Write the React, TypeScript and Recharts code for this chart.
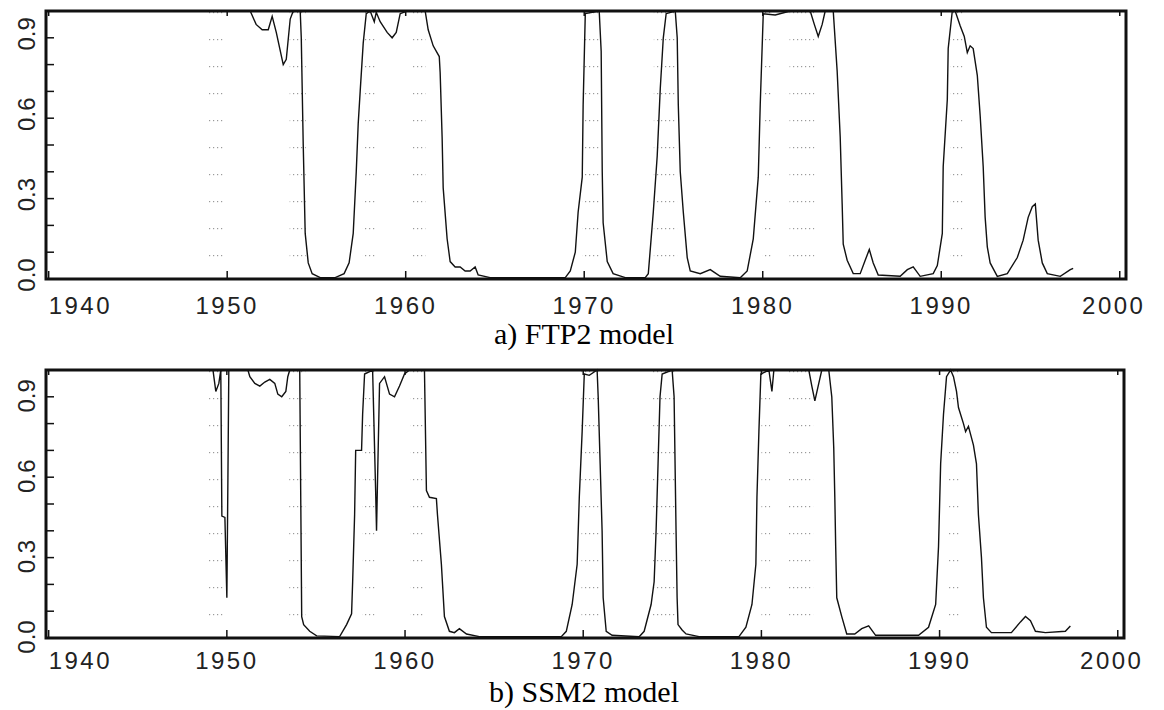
import React from "react";
import { LineChart, Line, XAxis, YAxis, ReferenceArea } from "recharts";

const yearTicks = [1940, 1950, 1960, 1970, 1980, 1990, 2000];
const probTicks = [0, 0.1, 0.2, 0.3, 0.4, 0.5, 0.6, 0.7, 0.8, 0.9, 1];
const probLabels = ["0.0", "0.3", "0.6", "0.9"];
const xDomain = [1939.85, 2000.35];

// NBER recession spans, drawn as the faint dotted bands
const recessions = [
  [1948.9, 1949.8],
  [1953.5, 1954.4],
  [1957.6, 1958.3],
  [1960.3, 1961.1],
  [1969.9, 1970.9],
  [1973.9, 1975.2],
  [1980.0, 1980.5],
  [1981.5, 1982.9],
  [1990.5, 1991.2],
];

// a) FTP2 model
const ftpYears = [
  1947.0, 1951.29, 1951.62, 1951.96, 1952.3, 1952.52, 1952.75, 1953.14, 1953.31, 1953.53,
  1953.7, 1954.09, 1954.15, 1954.26, 1954.37, 1954.54, 1954.76, 1955.21, 1956.05, 1956.55,
  1956.83, 1957.06, 1957.23, 1957.34, 1957.45, 1957.62, 1957.79, 1958.01, 1958.24, 1958.35,
  1958.57, 1958.96, 1959.24, 1959.47, 1959.69, 1960.08, 1961.09, 1961.26, 1961.54, 1961.88,
  1961.93, 1962.04, 1962.1, 1962.32, 1962.49, 1962.77, 1963.05, 1963.33, 1963.61, 1963.89,
  1964.06, 1964.73, 1968.94, 1969.22, 1969.5, 1969.66, 1969.89, 1969.94, 1970.06, 1970.84,
  1970.95, 1971.01, 1971.06, 1971.29, 1971.62, 1972.3, 1973.42, 1973.59, 1973.87, 1974.09,
  1974.26, 1974.43, 1974.59, 1975.1, 1975.21, 1975.27, 1975.38, 1975.55, 1975.77, 1975.94,
  1976.5, 1977.06, 1977.62, 1978.74, 1979.13, 1979.47, 1979.75, 1979.86, 1980.03, 1980.7,
  1981.54, 1982.66, 1982.89, 1983.11, 1983.33, 1983.5, 1983.95, 1984.17, 1984.34, 1984.45,
  1984.51, 1984.73, 1985.07, 1985.46, 1985.74, 1985.97, 1986.19, 1986.47, 1987.7, 1988.1,
  1988.43, 1988.82, 1989.55, 1989.78, 1990.06, 1990.11, 1990.34, 1990.39, 1990.62, 1990.78,
  1991.06, 1991.29, 1991.46, 1991.62, 1991.79, 1992.02, 1992.18, 1992.35, 1992.46, 1992.58,
  1992.74, 1993.14, 1993.7, 1994.26, 1994.59, 1994.87, 1995.1, 1995.27, 1995.43, 1995.66,
  1995.94, 1996.67, 1997.23, 1997.39,
];
const ftpProb = [
  1.0, 1.0, 0.95, 0.93, 0.93, 0.98, 0.92, 0.8, 0.82, 0.97,
  1.0, 1.0, 0.9, 0.5, 0.17, 0.06, 0.02, 0.005, 0.005, 0.02,
  0.06, 0.17, 0.4, 0.58, 0.7, 0.88, 0.99, 1.0, 0.96, 0.995,
  0.96, 0.92, 0.9, 0.92, 0.99, 1.0, 1.0, 0.93, 0.87, 0.83,
  0.77, 0.53, 0.34, 0.15, 0.065, 0.045, 0.045, 0.03, 0.03, 0.045,
  0.015, 0.005, 0.005, 0.03, 0.1, 0.25, 0.38, 0.65, 0.99, 1.0,
  0.85, 0.4, 0.21, 0.065, 0.02, 0.005, 0.005, 0.02, 0.25, 0.46,
  0.71, 0.9, 0.99, 1.0, 0.9, 0.65, 0.4, 0.25, 0.08, 0.03,
  0.02, 0.035, 0.01, 0.005, 0.03, 0.15, 0.38, 0.65, 0.99, 0.985,
  1.0, 1.0, 0.95, 0.905, 0.95, 1.0, 1.0, 0.775, 0.53, 0.28,
  0.13, 0.07, 0.02, 0.02, 0.07, 0.11, 0.06, 0.015, 0.01, 0.035,
  0.045, 0.01, 0.02, 0.05, 0.17, 0.42, 0.67, 0.86, 1.0, 1.0,
  0.945, 0.905, 0.845, 0.87, 0.86, 0.76, 0.61, 0.42, 0.23, 0.12,
  0.06, 0.01, 0.02, 0.08, 0.145, 0.23, 0.27, 0.28, 0.145, 0.06,
  0.02, 0.01, 0.035, 0.04,
];

// b) SSM2 model
const ssmYears = [
  1947.0, 1949.22, 1949.38, 1949.55, 1949.66, 1949.72, 1949.89, 1950.0, 1950.06, 1950.11,
  1951.18, 1951.29, 1951.57, 1951.85, 1952.13, 1952.41, 1952.69, 1952.86, 1953.08, 1953.31,
  1953.42, 1953.53, 1954.09, 1954.15, 1954.2, 1954.31, 1954.65, 1955.04, 1956.33, 1956.72,
  1957.0, 1957.06, 1957.17, 1957.23, 1957.56, 1957.62, 1957.73, 1958.18, 1958.35, 1958.4,
  1958.46, 1958.57, 1958.85, 1959.13, 1959.41, 1959.69, 1959.97, 1960.25, 1961.09, 1961.2,
  1961.37, 1961.76, 1961.82, 1962.04, 1962.21, 1962.49, 1962.77, 1963.05, 1963.45, 1964.17,
  1968.77, 1969.05, 1969.38, 1969.66, 1969.78, 1969.94, 1970.06, 1970.34, 1970.78, 1970.84,
  1970.95, 1971.06, 1971.12, 1971.29, 1971.62, 1973.14, 1973.42, 1973.81, 1973.98, 1974.09,
  1974.2, 1974.31, 1974.43, 1974.99, 1975.1, 1975.21, 1975.27, 1975.32, 1975.55, 1975.77,
  1976.5, 1978.74, 1979.13, 1979.47, 1979.69, 1979.75, 1979.86, 1979.97, 1980.42, 1980.59,
  1980.7, 1982.66, 1982.83, 1983.0, 1983.22, 1983.39, 1983.78, 1983.95, 1984.06, 1984.12,
  1984.17, 1984.23, 1984.51, 1984.79, 1985.24, 1985.63, 1986.02, 1986.41, 1988.82, 1989.38,
  1989.78, 1989.94, 1990.06, 1990.22, 1990.39, 1990.62, 1990.78, 1990.95, 1991.06, 1991.34,
  1991.46, 1991.62, 1991.74, 1991.9, 1992.07, 1992.18, 1992.35, 1992.46, 1992.63, 1992.91,
  1994.03, 1994.54, 1994.82, 1995.1, 1995.38, 1995.94, 1997.06, 1997.34,
];
const ssmProb = [
  1.0, 1.0, 0.92, 0.95, 1.0, 0.455, 0.45, 0.15, 0.6, 1.0,
  1.0, 0.975, 0.95, 0.94, 0.955, 0.965, 0.95, 0.91, 0.9, 0.92,
  0.975, 1.0, 1.0, 0.5, 0.08, 0.05, 0.025, 0.008, 0.005, 0.05,
  0.09, 0.21, 0.46, 0.7, 0.7, 0.835, 0.985, 1.0, 0.55, 0.4,
  0.6, 0.95, 0.975, 0.91, 0.9, 0.94, 0.985, 1.0, 1.0, 0.55,
  0.525, 0.52, 0.46, 0.275, 0.08, 0.025, 0.02, 0.035, 0.015, 0.005,
  0.005, 0.025, 0.125, 0.275, 0.525, 0.77, 0.985, 0.98, 1.0, 0.9,
  0.65, 0.4, 0.15, 0.025, 0.01, 0.005, 0.025, 0.125, 0.21, 0.4,
  0.65, 0.9, 0.985, 1.0, 0.9, 0.4, 0.15, 0.05, 0.03, 0.015,
  0.005, 0.005, 0.04, 0.125, 0.275, 0.525, 0.77, 0.985, 1.0, 0.92,
  1.0, 1.0, 0.94, 0.885, 0.95, 1.0, 1.0, 0.9, 0.71, 0.525,
  0.34, 0.15, 0.08, 0.015, 0.015, 0.035, 0.045, 0.01, 0.01, 0.04,
  0.125, 0.34, 0.65, 0.835, 0.975, 1.0, 0.975, 0.92, 0.86, 0.8,
  0.77, 0.79, 0.76, 0.72, 0.65, 0.46, 0.3, 0.15, 0.04, 0.02,
  0.02, 0.06, 0.08, 0.065, 0.025, 0.02, 0.025, 0.045,
];

const ftpData = ftpYears.map((year, i) => ({ year, p: ftpProb[i] }));
const ssmData = ssmYears.map((year, i) => ({ year, p: ssmProb[i] }));

const INK = "#111";
const tickFont = { fontFamily: "'Liberation Sans', Arial, sans-serif", fontSize: 24, fill: "#222" };
const tickLine = { stroke: INK, strokeWidth: 1.5 };

// recharts draws the inward tick lines (negative tickSize); these only place the text
function BottomTick(props: any) {
  const { x, y, payload, labelDy } = props;
  const v = payload.value;
  let anchor = "middle";
  let dx = 0;
  if (v === 1940) anchor = "start";
  if (v === 2000) dx = -6;
  return (
    <text x={x + dx} y={y + 8 + labelDy} textAnchor={anchor} letterSpacing={2.5} {...tickFont}>
      {v}
    </text>
  );
}

function LeftTick(props: any) {
  const { x, y, payload, labelShift } = props;
  const label = payload.value.toFixed(1);
  if (!probLabels.includes(label)) return <g />;
  return (
    <text
      transform={`translate(${x - 28}, ${y + labelShift}) rotate(-90)`}
      textAnchor="middle"
      dominantBaseline="central"
      {...tickFont}
    >
      {label}
    </text>
  );
}

function NoLabel() {
  return <g />;
}

interface PanelProps {
  data: { year: number; p: number }[];
  id: string;
  top: number;
  marginRight: number;
  labelShift: number;
  labelDy: number;
}

function Panel({ data, id, top, marginRight, labelShift, labelDy }: PanelProps) {
  return (
    <div style={{ position: "absolute", left: 0, top }}>
      <LineChart
        width={1164}
        height={320}
        data={data}
        margin={{ top: 10, right: marginRight, bottom: 0, left: 0 }}
      >
        <defs>
          <pattern id={id} width={4} height={27} patternUnits="userSpaceOnUse">
            <rect x={1} y={12} width={1.2} height={1.2} fill="#9a9a9a" />
          </pattern>
        </defs>
        <XAxis
          dataKey="year"
          type="number"
          domain={xDomain}
          ticks={yearTicks}
          interval={0}
          height={41}
          tickSize={-8}
          tickMargin={0}
          tickLine={tickLine}
          axisLine={false}
          tick={<BottomTick labelDy={labelDy} />}
          allowDataOverflow
        />
        <XAxis
          xAxisId="top"
          orientation="top"
          dataKey="year"
          type="number"
          domain={xDomain}
          ticks={yearTicks}
          interval={0}
          height={1}
          tickSize={-5}
          tickMargin={0}
          tickLine={tickLine}
          axisLine={false}
          tick={<NoLabel />}
          allowDataOverflow
        />
        <YAxis
          type="number"
          domain={[0, 1]}
          ticks={probTicks}
          interval={0}
          width={46}
          tickSize={-8}
          tickMargin={0}
          tickLine={tickLine}
          axisLine={false}
          tick={<LeftTick labelShift={labelShift} />}
        />
        <YAxis
          yAxisId="right"
          orientation="right"
          type="number"
          domain={[0, 1]}
          ticks={probTicks}
          interval={0}
          width={1}
          tickSize={-8}
          tickMargin={0}
          tickLine={tickLine}
          axisLine={false}
          tick={<NoLabel />}
        />
        {recessions.map(([a, b]) => (
          <ReferenceArea key={a} x1={a} x2={b} y1={0} y2={1} fill={`url(#${id})`} fillOpacity={1} stroke="none" />
        ))}
        <Line
          type="linear"
          dataKey="p"
          stroke={INK}
          strokeWidth={1.4}
          dot={false}
          activeDot={false}
          isAnimationActive={false}
        />
        <ReferenceArea
          x1={xDomain[0]}
          x2={xDomain[1]}
          y1={0}
          y2={1}
          fill="none"
          fillOpacity={0}
          stroke={INK}
          strokeWidth={3}
          ifOverflow="visible"
        />
      </LineChart>
    </div>
  );
}

const titleStyle: React.CSSProperties = {
  position: "absolute",
  left: 2,
  width: 1164,
  textAlign: "center",
  fontFamily: "'Liberation Serif', 'Times New Roman', serif",
  fontSize: 30,
  lineHeight: "24px",
  color: "#000",
};

export default function App() {
  return (
    <div
      style={{
        position: "absolute",
        left: 0,
        top: 0,
        width: 1164,
        height: 710,
        background: "#fff",
        overflow: "hidden",
      }}
    >
      <Panel data={ftpData} id="dotsA" top={0} marginRight={37} labelShift={-4} labelDy={35} />
      <div style={{ ...titleStyle, top: 322 }}>a) FTP2 model</div>
      <Panel data={ssmData} id="dotsB" top={359} marginRight={39} labelShift={-1} labelDy={31} />
      <div style={{ ...titleStyle, top: 680 }}>b) SSM2 model</div>
    </div>
  );
}
